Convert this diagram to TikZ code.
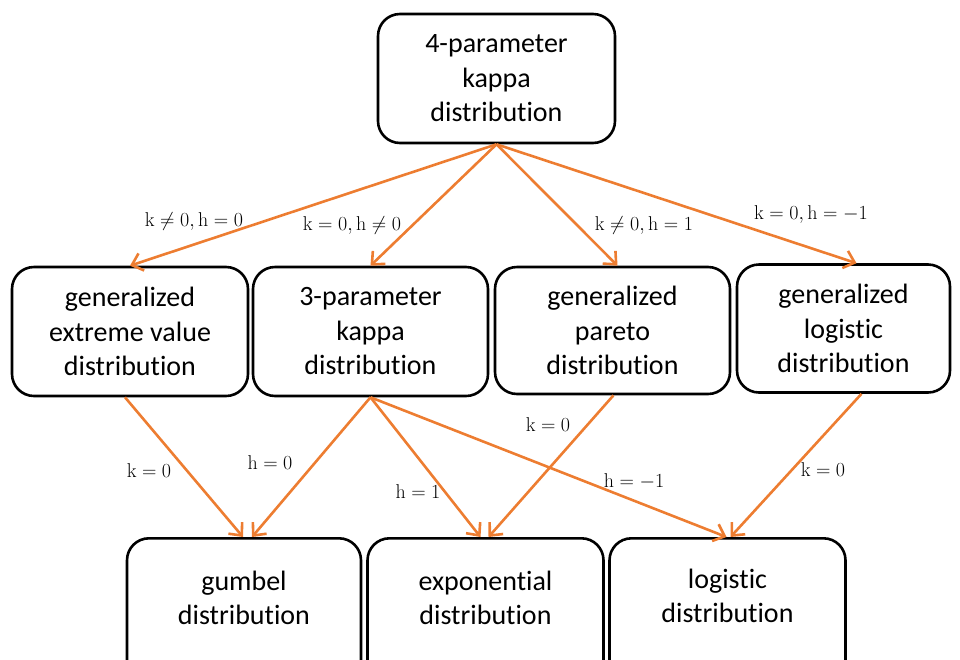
\documentclass[tikz,border=0pt]{standalone}
\usepackage{fix-cm}
\usepackage[no-math]{fontspec}
\setmainfont[Ligatures={NoCommon}]{Carlito}
\usetikzlibrary{arrows.meta}
\definecolor{arr}{RGB}{237,125,49}
\begin{document}
\begin{tikzpicture}[x=1pt,y=-1pt,
  box/.style={draw=black,line width=2.6pt,rounded corners=22pt,align=center,
    font=\fontsize{28}{34.5}\selectfont,inner sep=0pt},
  txt/.style={align=center,font=\fontsize{28}{34.5}\selectfont,inner sep=0pt},
  conn/.style={draw=arr,line width=2.6pt,-{Straight Barb[length=10pt,width=18pt,line width=2.6pt]}},
  lab/.style={font=\fontsize{20}{24}\selectfont,inner sep=1pt}]
\useasboundingbox (0,0) rectangle (960,659);
\clip (0,0) rectangle (960,659);
% top
\node[box,minimum width=237pt,minimum height=129pt] (top) at (496.5,78.5) {4-parameter\\kappa\\distribution};
% row 2
\node[box,minimum width=236pt,minimum height=129pt] (gev) at (130,331.5) {generalized\\extreme value\\distribution};
\node[box,minimum width=235pt,minimum height=129pt] (kap3) at (370.5,331.5) {3-parameter\\kappa\\distribution};
\node[box,minimum width=235pt,minimum height=127pt] (gpar) at (612.5,330.5) {generalized\\pareto\\distribution};
\node[box,minimum width=213pt,minimum height=128pt] (glog) at (843.5,328.5) {generalized\\logistic\\distribution};
% row 3 boxes (bottom cut off)
\node[box,minimum width=234pt,minimum height=160pt,anchor=north] (gum) at (244,537) {};
\node[box,minimum width=236pt,minimum height=160pt,anchor=north] (expo) at (485.5,537) {};
\node[box,minimum width=236pt,minimum height=160pt,anchor=north] (logi) at (727.5,537) {};
\node[txt] (gumt) at (244,598) {gumbel\\distribution};
\node[txt] (expot) at (485.5,598) {exponential\\distribution};
\node[txt] (logit) at (727.5,596) {logistic\\distribution};
% connectors top -> row 2
\draw[conn] (top.south) -- (gev.north);
\draw[conn] (top.south) -- (kap3.north);
\draw[conn] (top.south) -- ([xshift=5pt]gpar.north);
\draw[conn] (top.south) -- ([xshift=13pt]glog.north);
% connectors row 2 -> row 3
\draw[conn] ([xshift=-5pt]gev.south) -- ([xshift=-1pt]gum.north);
\draw[conn] (kap3.south) -- ([xshift=8pt]gum.north);
\draw[conn] (kap3.south) -- ([xshift=-5pt]expo.north);
\draw[conn] (kap3.south) -- ([xshift=-1pt]logi.north);
\draw[conn] ([xshift=1pt]gpar.south) -- ([xshift=3pt]expo.north);
\draw[conn] ([xshift=18pt]glog.south) -- ([xshift=3pt]logi.north);
% labels
\node[lab] (l1) at (194,221) {$\mathrm{k}\neq 0,\mathrm{h}=0$};
\node[lab] (l2) at (352,225) {$\mathrm{k}=0,\mathrm{h}\neq 0$};
\node[lab] (l3) at (644,225) {$\mathrm{k}\neq 0,\mathrm{h}=1$};
\node[lab] (l4) at (811,214) {$\mathrm{k}=0,\mathrm{h}=-1$};
\node[lab] (l5) at (149,471) {$\mathrm{k}=0$};
\node[lab] (l6) at (270,463) {$\mathrm{h}=0$};
\node[lab] (l7) at (418,492) {$\mathrm{h}=1$};
\node[lab] (l8) at (548,425) {$\mathrm{k}=0$};
\node[lab] (l9) at (634,481) {$\mathrm{h}=-1$};
\node[lab] (l10) at (823,470) {$\mathrm{k}=0$};
\end{tikzpicture}
\end{document}
